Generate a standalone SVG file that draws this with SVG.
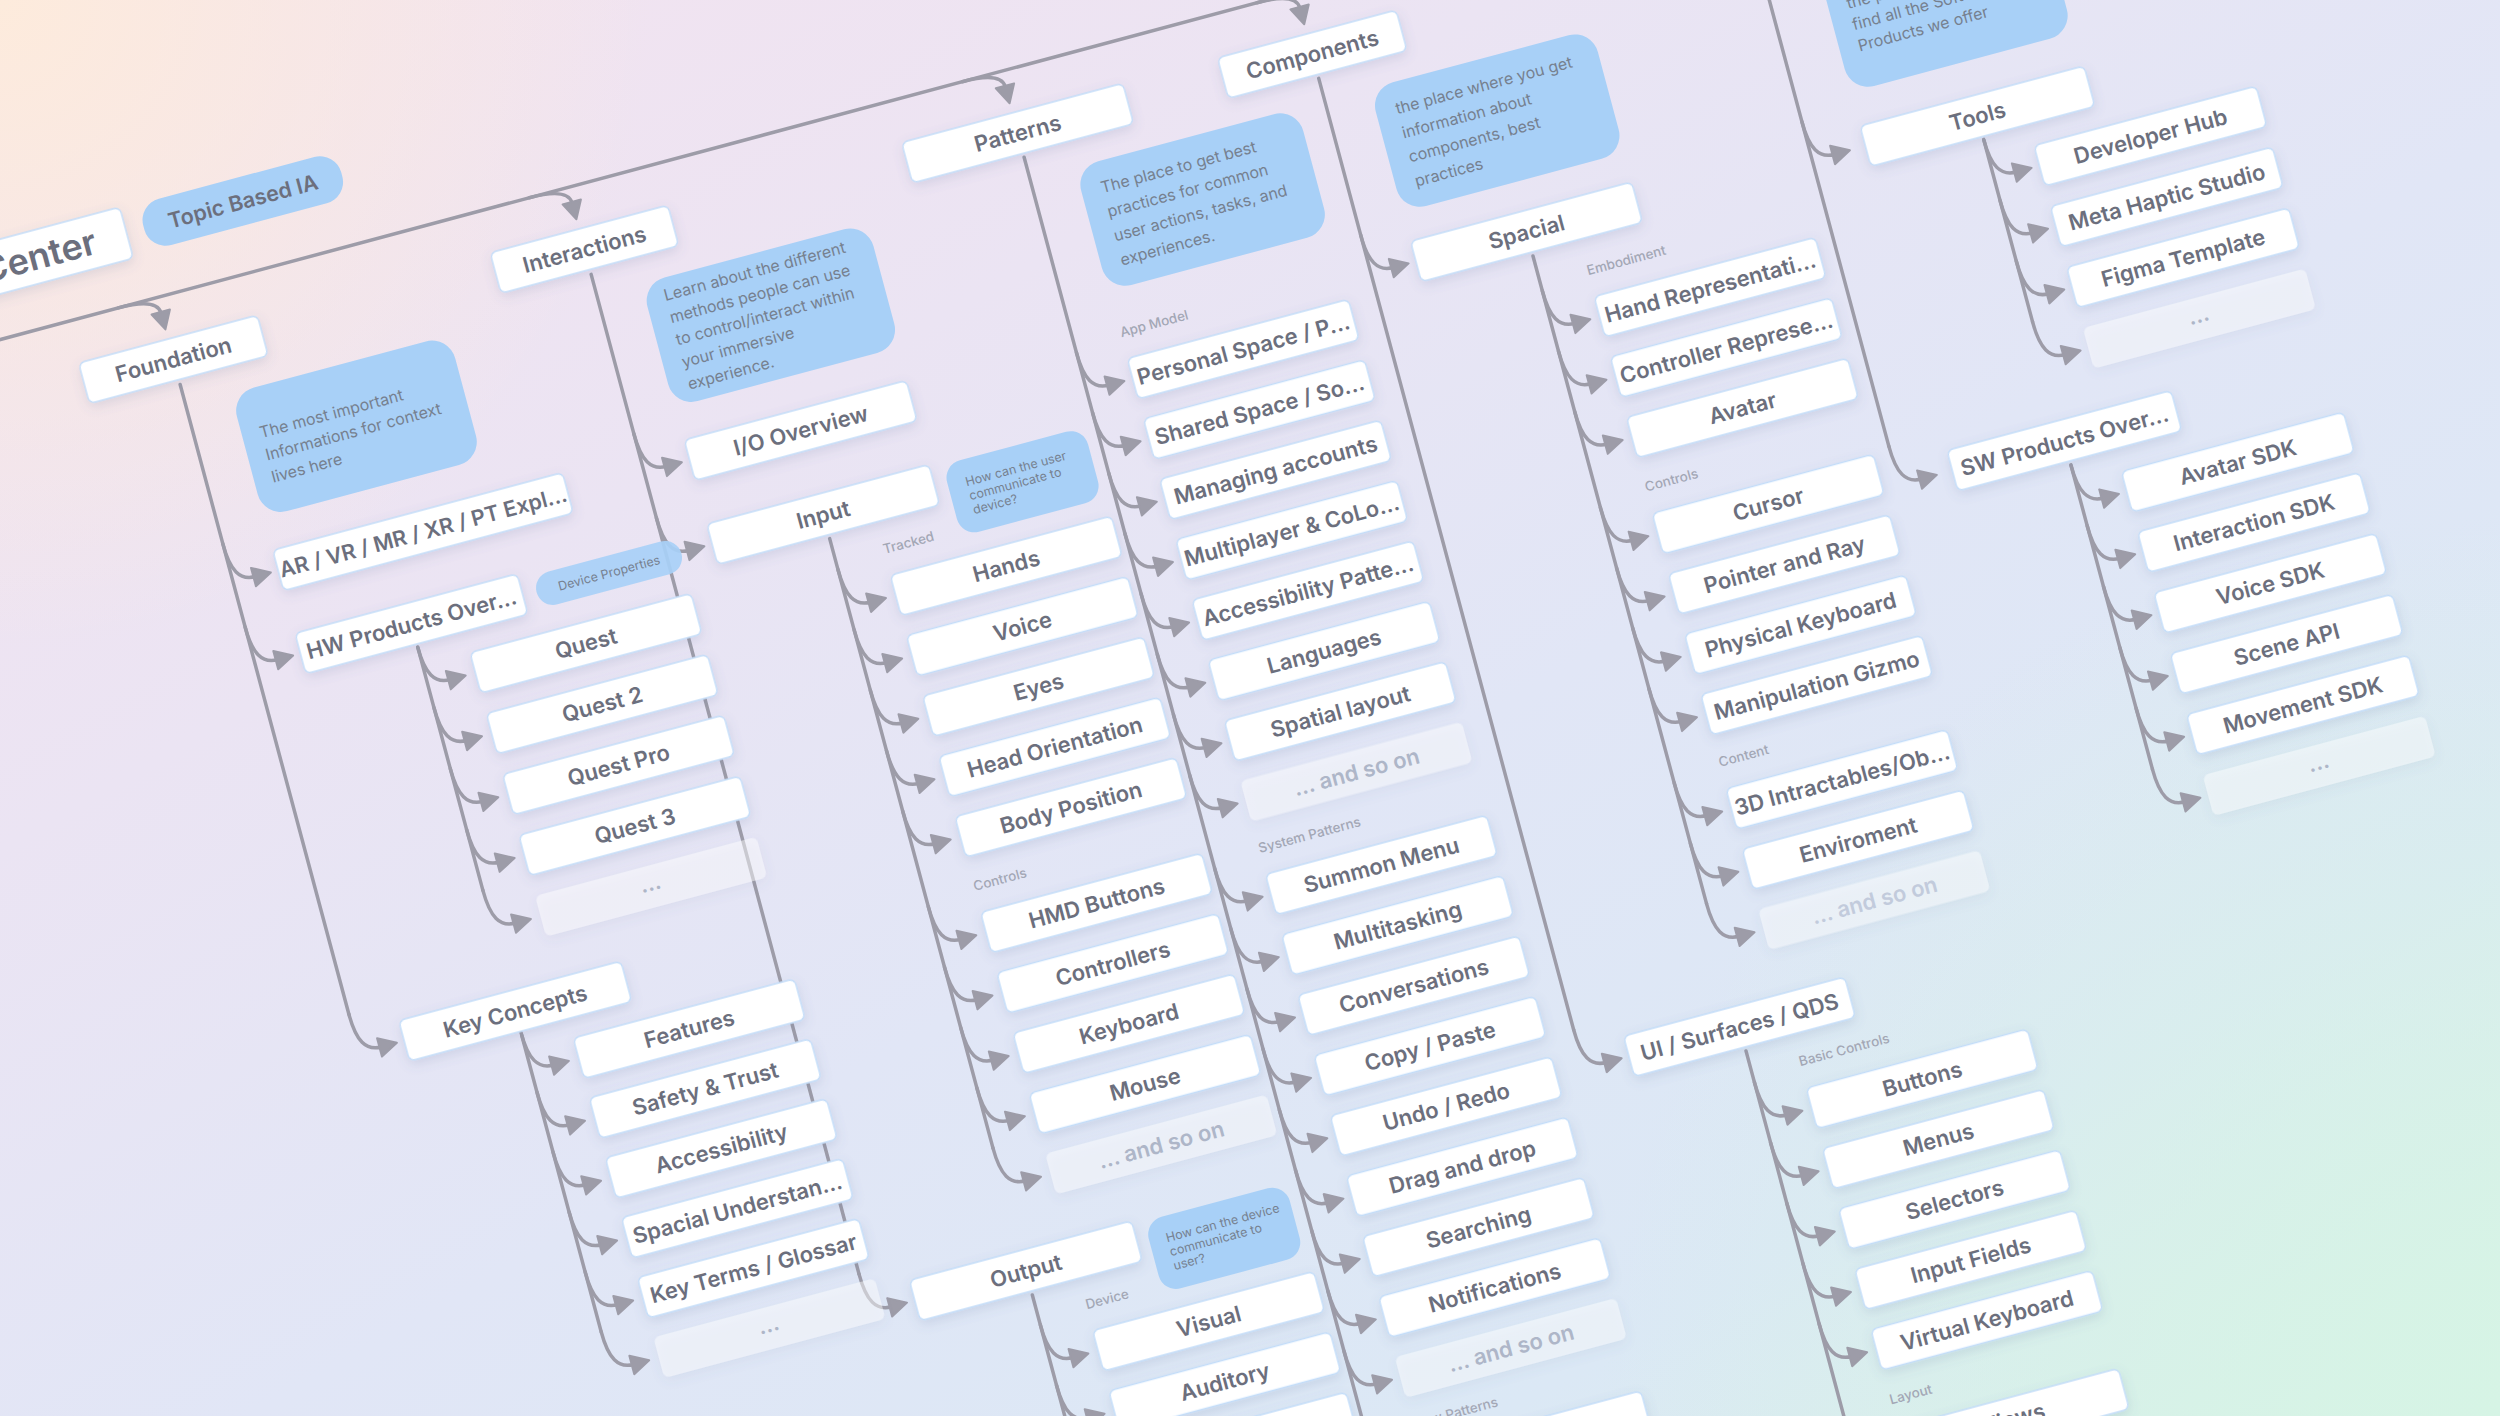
<svg xmlns="http://www.w3.org/2000/svg" width="2500" height="1416" viewBox="0 0 2500 1416">
<defs>
<linearGradient id="bg" x1="0" y1="0" x2="1" y2="1">
<stop offset="0" stop-color="#f4e3ef"/>
<stop offset="0.3" stop-color="#ebe4f3"/>
<stop offset="0.55" stop-color="#e1e6f6"/>
<stop offset="0.8" stop-color="#dbe8f5"/>
<stop offset="1" stop-color="#d8f1e7"/>
</linearGradient>
<radialGradient id="peach" cx="0" cy="0" r="650" gradientUnits="userSpaceOnUse">
<stop offset="0" stop-color="#fdebdc"/>
<stop offset="1" stop-color="#fdebdc" stop-opacity="0"/>
</radialGradient>
<radialGradient id="mint" cx="2500" cy="1416" r="900" gradientUnits="userSpaceOnUse">
<stop offset="0" stop-color="#d6f4e5"/>
<stop offset="1" stop-color="#d6f4e5" stop-opacity="0"/>
</radialGradient>
<filter id="sh" x="-20%" y="-60%" width="140%" height="220%">
<feDropShadow dx="0" dy="4" stdDeviation="6" flood-color="#5b6a96" flood-opacity="0.16"/>
</filter>
<style>
.b{fill:#fff;stroke:#c3ddf9;stroke-width:1.4;filter:url(#sh)}
.g{fill:#fff;fill-opacity:.45;filter:url(#sh)}
.t{font-family:Inter,'Noto Sans',sans-serif;font-size:22px;font-weight:600;fill:#6c6f7d;text-anchor:middle}
.tg{font-family:Inter,'Noto Sans',sans-serif;font-size:22px;font-weight:600;fill:#aeb6c8;text-anchor:middle}
.n{fill:#a8d0f7}
.nx{font-family:Inter,'Noto Sans',sans-serif;font-size:16px;font-weight:400;fill:#76808f}
.ns{font-family:Inter,'Noto Sans',sans-serif;font-size:12.5px;font-weight:400;fill:#76808f}
.l{font-family:Inter,'Noto Sans',sans-serif;font-size:13.5px;font-weight:500;fill:#a3a7b5}
</style>
<g id="br"><path d="M0,-40 C0,-12 7,0 23,0" fill="none" stroke="#9d9ca8" stroke-width="3.5" stroke-linecap="round"/><path d="M21,-9.5 L39,0 L21,9.5 Z" fill="#9d9ca8" stroke="#9d9ca8" stroke-width="2" stroke-linejoin="round"/></g>
<g id="tb"><path d="M-40,0 C-12,0 0,6 0,16" fill="none" stroke="#9d9ca8" stroke-width="3.5" stroke-linecap="round"/><path d="M-9.5,15 L0,33 L9.5,15 Z" fill="#9d9ca8" stroke="#9d9ca8" stroke-width="2" stroke-linejoin="round"/></g>
</defs>
<rect width="2500" height="1416" fill="url(#bg)"/>
<rect width="2500" height="1416" fill="url(#peach)"/>
<rect width="2500" height="1416" fill="url(#mint)"/>
<g transform="rotate(-15)">
<g id="connectors">
<path d="M-400,328 H1669 M74.5,418 V1070 M236,734 V985 M236,1135 V1442 M500,418 V1453 M662,735 V1366 M662,1518 V1674 M948.5,417 V1749 M1253.5,417 V1402 M1414.5,644 V1314.5 M1414.5,1467 V1990 M1709,380 V920 M1880,649 V837 M1880,985 V1300" fill="none" stroke="#9d9ca8" stroke-width="3.5" stroke-linecap="round"/>
<use href="#tb" x="74.5" y="328"/><use href="#tb" x="500" y="328"/><use href="#tb" x="948.5" y="328"/><use href="#tb" x="1253.5" y="328"/><use href="#tb" x="1709" y="328"/>
<use href="#br" x="74.5" y="623"/><use href="#br" x="74.5" y="709"/><use href="#br" x="74.5" y="1110"/>
<use href="#br" x="236" y="773"/><use href="#br" x="236" y="836"/><use href="#br" x="236" y="899"/><use href="#br" x="236" y="962"/><use href="#br" x="236" y="1025"/>
<use href="#br" x="236" y="1172"/><use href="#br" x="236" y="1234"/><use href="#br" x="236" y="1296"/><use href="#br" x="236" y="1358"/><use href="#br" x="236" y="1420"/><use href="#br" x="236" y="1482"/>
<use href="#br" x="500" y="623"/><use href="#br" x="500" y="710"/><use href="#br" x="500" y="1493"/>
<use href="#br" x="662" y="807"/><use href="#br" x="662" y="869.5"/><use href="#br" x="662" y="932"/><use href="#br" x="662" y="994.5"/><use href="#br" x="662" y="1057"/><use href="#br" x="662" y="1156"/><use href="#br" x="662" y="1218.5"/><use href="#br" x="662" y="1281"/><use href="#br" x="662" y="1343.5"/><use href="#br" x="662" y="1406"/>
<use href="#br" x="662" y="1589"/><use href="#br" x="662" y="1651.5"/><use href="#br" x="662" y="1714"/>
<use href="#br" x="948.5" y="659"/><use href="#br" x="948.5" y="721.5"/><use href="#br" x="948.5" y="784"/><use href="#br" x="948.5" y="846.5"/><use href="#br" x="948.5" y="909"/><use href="#br" x="948.5" y="971.5"/><use href="#br" x="948.5" y="1034"/><use href="#br" x="948.5" y="1096.5"/>
<use href="#br" x="948.5" y="1193"/><use href="#br" x="948.5" y="1255.5"/><use href="#br" x="948.5" y="1318"/><use href="#br" x="948.5" y="1380.5"/><use href="#br" x="948.5" y="1443"/><use href="#br" x="948.5" y="1505.5"/><use href="#br" x="948.5" y="1568"/><use href="#br" x="948.5" y="1630.5"/><use href="#br" x="948.5" y="1693"/><use href="#br" x="948.5" y="1789"/>
<use href="#br" x="1253.5" y="619"/><use href="#br" x="1253.5" y="1442"/>
<use href="#br" x="1414.5" y="720"/><use href="#br" x="1414.5" y="782.5"/><use href="#br" x="1414.5" y="845"/><use href="#br" x="1414.5" y="944.5"/><use href="#br" x="1414.5" y="1007"/><use href="#br" x="1414.5" y="1069.5"/><use href="#br" x="1414.5" y="1132"/><use href="#br" x="1414.5" y="1229.5"/><use href="#br" x="1414.5" y="1292"/><use href="#br" x="1414.5" y="1354.5"/>
<use href="#br" x="1414.5" y="1539.5"/><use href="#br" x="1414.5" y="1602"/><use href="#br" x="1414.5" y="1664.5"/><use href="#br" x="1414.5" y="1727"/><use href="#br" x="1414.5" y="1789.5"/><use href="#br" x="1414.5" y="1891"/>
<use href="#br" x="1709" y="624"/><use href="#br" x="1709" y="960"/>
<use href="#br" x="1880" y="688"/><use href="#br" x="1880" y="751"/><use href="#br" x="1880" y="814"/><use href="#br" x="1880" y="877"/>
<use href="#br" x="1880" y="1025.5"/><use href="#br" x="1880" y="1088"/><use href="#br" x="1880" y="1151"/><use href="#br" x="1880" y="1214"/><use href="#br" x="1880" y="1277"/><use href="#br" x="1880" y="1340"/>
</g>

<!-- Root & Foundation -->
<g id="n-root"><rect class="b" x="-400" y="231" width="462" height="53" rx="6"/><text class="t" x="30" y="270" style="font-size:36px;text-anchor:end">Center</text></g>
<g id="n-topic"><rect class="n" x="80" y="233" width="205" height="48" rx="22"/><text class="t" x="182.5" y="265" style="font-size:21.5px">Topic Based IA</text></g>
<g id="n-foundation"><rect class="b" x="-18" y="371" width="185" height="42" rx="6"/><text class="t" x="74.5" y="400">Foundation</text></g>
<g id="note-foundation"><rect class="n" x="121" y="440" width="226" height="128" rx="24"/><text class="nx" x="139" y="491">The most important</text><text class="nx" x="139" y="514">Informations for context</text><text class="nx" x="139" y="537">lives here</text></g>
<g id="n-arvr"><rect class="b" x="121" y="602" width="300" height="42" rx="6"/><text class="t" x="271" y="631" style="font-size:21.5px">AR / VR / MR / XR / PT Expl...</text></g>
<g id="n-hw"><rect class="b" x="121" y="688" width="230" height="42" rx="6"/><text class="t" x="236" y="717">HW Products Over...</text></g>
<g id="note-devprops"><rect class="n" x="365" y="694" width="150" height="34" rx="17" fill-opacity="0.92"/><text class="ns" x="440" y="715.5" style="text-anchor:middle">Device Properties</text></g>
<g id="n-quest"><rect class="b" x="285" y="752" width="229" height="42" rx="6"/><text class="t" x="399.5" y="781">Quest</text></g>
<g id="n-quest2"><rect class="b" x="285" y="815" width="229" height="42" rx="6"/><text class="t" x="399.5" y="844">Quest 2</text></g>
<g id="n-questpro"><rect class="b" x="285" y="878" width="229" height="42" rx="6"/><text class="t" x="399.5" y="907">Quest Pro</text></g>
<g id="n-quest3"><rect class="b" x="285" y="941" width="229" height="42" rx="6"/><text class="t" x="399.5" y="970">Quest 3</text></g>
<g id="n-hw-more"><rect class="g" x="285" y="1004" width="229" height="42" rx="6"/><text class="tg" x="399.5" y="1029">...</text></g>
<g id="n-keyconcepts"><rect class="b" x="121" y="1089" width="230" height="42" rx="6"/><text class="t" x="236" y="1118">Key Concepts</text></g>
<g id="n-features"><rect class="b" x="285" y="1151" width="229" height="42" rx="6"/><text class="t" x="399.5" y="1180">Features</text></g>
<g id="n-safety"><rect class="b" x="285" y="1213" width="229" height="42" rx="6"/><text class="t" x="399.5" y="1242">Safety &amp; Trust</text></g>
<g id="n-accessibility"><rect class="b" x="285" y="1275" width="229" height="42" rx="6"/><text class="t" x="399.5" y="1304">Accessibility</text></g>
<g id="n-spacialund"><rect class="b" x="285" y="1337" width="229" height="42" rx="6"/><text class="t" x="399.5" y="1366">Spacial Understan...</text></g>
<g id="n-keyterms"><rect class="b" x="285" y="1399" width="229" height="42" rx="6"/><text class="t" x="399.5" y="1428">Key Terms / Glossar</text></g>
<g id="n-kc-more"><rect class="g" x="285" y="1461" width="229" height="42" rx="6"/><text class="tg" x="399.5" y="1486">...</text></g>

<!-- Interactions -->
<g id="n-interactions"><rect class="b" x="408" y="371" width="184" height="42" rx="6"/><text class="t" x="500" y="400">Interactions</text></g>
<g id="note-interactions"><rect class="n" x="546" y="440" width="234" height="128" rx="24"/><text class="nx" x="565" y="463">Learn about the different</text><text class="nx" x="565" y="486">methods people can use</text><text class="nx" x="565" y="509">to control/interact within</text><text class="nx" x="565" y="532">your immersive</text><text class="nx" x="565" y="555">experience.</text></g>
<g id="n-io"><rect class="b" x="547" y="602" width="230" height="42" rx="6"/><text class="t" x="662" y="631">I/O Overview</text></g>
<g id="n-input"><rect class="b" x="547" y="689" width="230" height="42" rx="6"/><text class="t" x="662" y="718">Input</text></g>
<g id="note-input"><rect class="n" x="790" y="693" width="146" height="74" rx="18"/><text class="ns" x="808" y="720">How can the user</text><text class="ns" x="808" y="734.5">communicate to</text><text class="ns" x="808" y="749">device?</text></g>
<text class="l" x="711" y="764">Tracked</text>
<g id="n-hands"><rect class="b" x="711" y="786" width="229" height="42" rx="6"/><text class="t" x="825.5" y="815">Hands</text></g>
<g id="n-voice"><rect class="b" x="711" y="848.5" width="229" height="42" rx="6"/><text class="t" x="825.5" y="877.5">Voice</text></g>
<g id="n-eyes"><rect class="b" x="711" y="911" width="229" height="42" rx="6"/><text class="t" x="825.5" y="940">Eyes</text></g>
<g id="n-head"><rect class="b" x="711" y="973.5" width="229" height="42" rx="6"/><text class="t" x="825.5" y="1002.5">Head Orientation</text></g>
<g id="n-body"><rect class="b" x="711" y="1036" width="229" height="42" rx="6"/><text class="t" x="825.5" y="1065">Body Position</text></g>
<text class="l" x="711" y="1113">Controls</text>
<g id="n-hmd"><rect class="b" x="711" y="1135" width="229" height="42" rx="6"/><text class="t" x="825.5" y="1164">HMD Buttons</text></g>
<g id="n-controllers"><rect class="b" x="711" y="1197.5" width="229" height="42" rx="6"/><text class="t" x="825.5" y="1226.5">Controllers</text></g>
<g id="n-keyboard"><rect class="b" x="711" y="1260" width="229" height="42" rx="6"/><text class="t" x="825.5" y="1289">Keyboard</text></g>
<g id="n-mouse"><rect class="b" x="711" y="1322.5" width="229" height="42" rx="6"/><text class="t" x="825.5" y="1351.5">Mouse</text></g>
<g id="n-input-more"><rect class="g" x="711" y="1385" width="229" height="42" rx="6"/><text class="tg" x="825.5" y="1414">... and so on</text></g>
<g id="n-output"><rect class="b" x="547" y="1472" width="230" height="42" rx="6"/><text class="t" x="662" y="1501">Output</text></g>
<g id="note-output"><rect class="n" x="789" y="1476" width="146" height="74" rx="18"/><text class="ns" x="806" y="1502">How can the device</text><text class="ns" x="806" y="1516.5">communicate to</text><text class="ns" x="806" y="1531">user?</text></g>
<text class="l" x="711" y="1546">Device</text>
<g id="n-visual"><rect class="b" x="711" y="1568" width="229" height="42" rx="6"/><text class="t" x="825.5" y="1597">Visual</text></g>
<g id="n-auditory"><rect class="b" x="711" y="1630.5" width="229" height="42" rx="6"/><text class="t" x="825.5" y="1659.5">Auditory</text></g>
<g id="n-output-3"><rect class="b" x="711" y="1693" width="229" height="42" rx="6"/></g>

<!-- Patterns -->
<g id="n-patterns"><rect class="b" x="834" y="371" width="229" height="42" rx="6"/><text class="t" x="948.5" y="400">Patterns</text></g>
<g id="note-patterns"><rect class="n" x="995" y="440" width="230" height="128" rx="24"/><text class="nx" x="1015" y="472">The place to get best</text><text class="nx" x="1015" y="497">practices for common</text><text class="nx" x="1015" y="522">user actions, tasks, and</text><text class="nx" x="1015" y="547">experiences.</text></g>
<text class="l" x="996" y="616">App Model</text>
<g id="n-personal"><rect class="b" x="996" y="638" width="229" height="42" rx="6"/><text class="t" x="1110.5" y="667">Personal Space / P...</text></g>
<g id="n-shared"><rect class="b" x="996" y="700.5" width="229" height="42" rx="6"/><text class="t" x="1110.5" y="729.5">Shared Space / So...</text></g>
<g id="n-accounts"><rect class="b" x="996" y="763" width="229" height="42" rx="6"/><text class="t" x="1110.5" y="792">Managing accounts</text></g>
<g id="n-multiplayer"><rect class="b" x="996" y="825.5" width="229" height="42" rx="6"/><text class="t" x="1110.5" y="854.5">Multiplayer &amp; CoLo...</text></g>
<g id="n-accpatterns"><rect class="b" x="996" y="888" width="229" height="42" rx="6"/><text class="t" x="1110.5" y="917">Accessibility Patte...</text></g>
<g id="n-languages"><rect class="b" x="996" y="950.5" width="229" height="42" rx="6"/><text class="t" x="1110.5" y="979.5">Languages</text></g>
<g id="n-spatiallayout"><rect class="b" x="996" y="1013" width="229" height="42" rx="6"/><text class="t" x="1110.5" y="1042">Spatial layout</text></g>
<g id="n-app-more"><rect class="g" x="996" y="1075.5" width="229" height="42" rx="6"/><text class="tg" x="1110.5" y="1104.5">... and so on</text></g>
<text class="l" x="996" y="1150">System Patterns</text>
<g id="n-summon"><rect class="b" x="996" y="1172" width="229" height="42" rx="6"/><text class="t" x="1110.5" y="1201">Summon Menu</text></g>
<g id="n-multitasking"><rect class="b" x="996" y="1234.5" width="229" height="42" rx="6"/><text class="t" x="1110.5" y="1263.5">Multitasking</text></g>
<g id="n-conversations"><rect class="b" x="996" y="1297" width="229" height="42" rx="6"/><text class="t" x="1110.5" y="1326">Conversations</text></g>
<g id="n-copypaste"><rect class="b" x="996" y="1359.5" width="229" height="42" rx="6"/><text class="t" x="1110.5" y="1388.5">Copy / Paste</text></g>
<g id="n-undoredo"><rect class="b" x="996" y="1422" width="229" height="42" rx="6"/><text class="t" x="1110.5" y="1451">Undo / Redo</text></g>
<g id="n-dragdrop"><rect class="b" x="996" y="1484.5" width="229" height="42" rx="6"/><text class="t" x="1110.5" y="1513.5">Drag and drop</text></g>
<g id="n-searching"><rect class="b" x="996" y="1547" width="229" height="42" rx="6"/><text class="t" x="1110.5" y="1576">Searching</text></g>
<g id="n-notifications"><rect class="b" x="996" y="1609.5" width="229" height="42" rx="6"/><text class="t" x="1110.5" y="1638.5">Notifications</text></g>
<g id="n-sys-more"><rect class="g" x="996" y="1672" width="229" height="42" rx="6"/><text class="tg" x="1110.5" y="1701">... and so on</text></g>
<text class="l" x="996" y="1746">Flow Patterns</text>
<g id="n-flow-1"><rect class="b" x="996" y="1768" width="229" height="42" rx="6"/></g>

<!-- Components -->
<g id="n-components"><rect class="b" x="1161" y="371" width="185" height="42" rx="6"/><text class="t" x="1253.5" y="400">Components</text></g>
<g id="note-components"><rect class="n" x="1300" y="440" width="230" height="128" rx="24"/><text class="nx" x="1320" y="472">the place where you get</text><text class="nx" x="1320" y="497">information about</text><text class="nx" x="1320" y="522">components, best</text><text class="nx" x="1320" y="547">practices</text></g>
<g id="n-spacial"><rect class="b" x="1300" y="598" width="229" height="42" rx="6"/><text class="t" x="1414.5" y="627">Spacial</text></g>
<text class="l" x="1463" y="677">Embodiment</text>
<g id="n-handrep"><rect class="b" x="1463" y="699" width="229" height="42" rx="6"/><text class="t" x="1577.5" y="728">Hand Representati...</text></g>
<g id="n-ctrlrep"><rect class="b" x="1463" y="761.5" width="229" height="42" rx="6"/><text class="t" x="1577.5" y="790.5">Controller Represe...</text></g>
<g id="n-avatar"><rect class="b" x="1463" y="824" width="229" height="42" rx="6"/><text class="t" x="1577.5" y="853">Avatar</text></g>
<text class="l" x="1463" y="901">Controls</text>
<g id="n-cursor"><rect class="b" x="1463" y="923.5" width="229" height="42" rx="6"/><text class="t" x="1577.5" y="952.5">Cursor</text></g>
<g id="n-pointer"><rect class="b" x="1463" y="986" width="229" height="42" rx="6"/><text class="t" x="1577.5" y="1015">Pointer and Ray</text></g>
<g id="n-physkb"><rect class="b" x="1463" y="1048.5" width="229" height="42" rx="6"/><text class="t" x="1577.5" y="1077.5">Physical Keyboard</text></g>
<g id="n-gizmo"><rect class="b" x="1463" y="1111" width="229" height="42" rx="6"/><text class="t" x="1577.5" y="1140">Manipulation Gizmo</text></g>
<text class="l" x="1463" y="1186">Content</text>
<g id="n-3d"><rect class="b" x="1463" y="1208.5" width="229" height="42" rx="6"/><text class="t" x="1577.5" y="1237.5">3D Intractables/Ob...</text></g>
<g id="n-env"><rect class="b" x="1463" y="1271" width="229" height="42" rx="6"/><text class="t" x="1577.5" y="1300">Enviroment</text></g>
<g id="n-spacial-more"><rect class="g" x="1463" y="1333.5" width="229" height="42" rx="6"/><text class="tg" x="1577.5" y="1362.5" style="fill:#c2cbdc">... and so on</text></g>
<g id="n-ui"><rect class="b" x="1300" y="1421" width="229" height="42" rx="6"/><text class="t" x="1414.5" y="1450">UI / Surfaces / QDS</text></g>
<text class="l" x="1463" y="1496">Basic Controls</text>
<g id="n-buttons"><rect class="b" x="1463" y="1518.5" width="229" height="42" rx="6"/><text class="t" x="1577.5" y="1547.5">Buttons</text></g>
<g id="n-menus"><rect class="b" x="1463" y="1581" width="229" height="42" rx="6"/><text class="t" x="1577.5" y="1610">Menus</text></g>
<g id="n-selectors"><rect class="b" x="1463" y="1643.5" width="229" height="42" rx="6"/><text class="t" x="1577.5" y="1672.5">Selectors</text></g>
<g id="n-inputfields"><rect class="b" x="1463" y="1706" width="229" height="42" rx="6"/><text class="t" x="1577.5" y="1735">Input Fields</text></g>
<g id="n-vkb"><rect class="b" x="1463" y="1768.5" width="229" height="42" rx="6"/><text class="t" x="1577.5" y="1797.5">Virtual Keyboard</text></g>
<text class="l" x="1463" y="1846">Layout</text>
<g id="n-views"><rect class="b" x="1463" y="1870" width="229" height="42" rx="6"/><text class="t" x="1577.5" y="1899">Views</text></g>

<!-- Software -->
<g id="note-software"><rect class="n" x="1764" y="440" width="230" height="128" rx="24"/><text class="nx" x="1783" y="487">the place to</text><text class="nx" x="1783" y="509">find all the Software</text><text class="nx" x="1783" y="531">Products we offer</text></g>
<g id="n-tools"><rect class="b" x="1764" y="603" width="232" height="42" rx="6"/><text class="t" x="1880" y="632">Tools</text></g>
<g id="n-devhub"><rect class="b" x="1927" y="667" width="230" height="42" rx="6"/><text class="t" x="2042" y="696">Developer Hub</text></g>
<g id="n-haptic"><rect class="b" x="1927" y="730" width="230" height="42" rx="6"/><text class="t" x="2042" y="759">Meta Haptic Studio</text></g>
<g id="n-figma"><rect class="b" x="1927" y="793" width="230" height="42" rx="6"/><text class="t" x="2042" y="822">Figma Template</text></g>
<g id="n-tools-more"><rect class="g" x="1927" y="856" width="230" height="42" rx="6"/><text class="tg" x="2042" y="881">...</text></g>
<g id="n-sw"><rect class="b" x="1764" y="939" width="232" height="42" rx="6"/><text class="t" x="1880" y="968">SW Products Over...</text></g>
<g id="n-avatarsdk"><rect class="b" x="1927" y="1004.5" width="230" height="42" rx="6"/><text class="t" x="2042" y="1033.5">Avatar SDK</text></g>
<g id="n-interactionsdk"><rect class="b" x="1927" y="1067" width="230" height="42" rx="6"/><text class="t" x="2042" y="1096">Interaction SDK</text></g>
<g id="n-voicesdk"><rect class="b" x="1927" y="1130" width="230" height="42" rx="6"/><text class="t" x="2042" y="1159">Voice SDK</text></g>
<g id="n-sceneapi"><rect class="b" x="1927" y="1193" width="230" height="42" rx="6"/><text class="t" x="2042" y="1222">Scene API</text></g>
<g id="n-movementsdk"><rect class="b" x="1927" y="1256" width="230" height="42" rx="6"/><text class="t" x="2042" y="1285">Movement SDK</text></g>
<g id="n-sw-more"><rect class="g" x="1927" y="1319" width="230" height="42" rx="6"/><text class="tg" x="2042" y="1344">...</text></g>
</g>
</svg>
